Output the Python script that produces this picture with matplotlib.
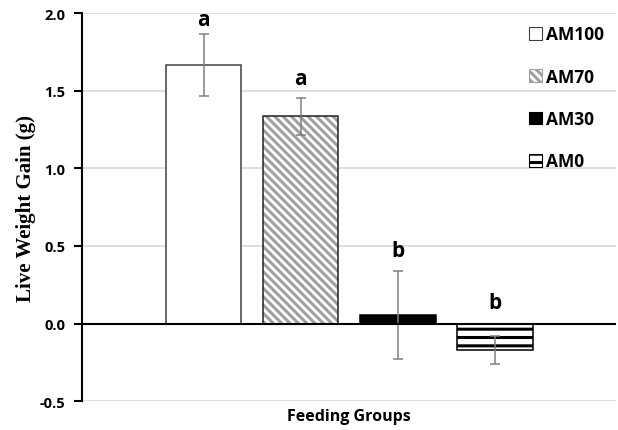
import matplotlib
matplotlib.use("Agg")
import matplotlib.pyplot as plt
from matplotlib.patches import Patch

groups = ["AM100", "AM70", "AM30", "AM0"]
gain = [1.665, 1.335, 0.055, -0.17]
err = [0.20, 0.12, 0.285, 0.092]
letters = ["a", "a", "b", "b"]
letter_y = [1.96, 1.58, 0.47, 0.135]

fills = ["white", "white", "black", "white"]
hatches = [None, "\\\\\\\\", None, "--"]
hatch_cols = ["#404040", "#a0a0a0", "black", "black"]
edges = ["#404040", "#202020", "black", "black"]

SANS = "Open Sans"

plt.rcParams["hatch.linewidth"] = 2.2

fig = plt.figure(figsize=(6.18, 4.31), dpi=100)
ax = fig.add_axes([0.133, 0.067, 0.864, 0.900])

x = [0, 1, 2, 3]
w = 0.78
for i in x:
    # hatch drawn with its own colour, outline drawn on top
    ax.bar(i, gain[i], w, color=fills[i], edgecolor=hatch_cols[i],
           hatch=hatches[i], linewidth=0, zorder=2)
    ax.bar(i, gain[i], w, fill=False, edgecolor=edges[i], linewidth=1.1, zorder=3)
    ax.errorbar(i, gain[i], yerr=err[i], color="#808080", capsize=3.3,
                elinewidth=1.1, capthick=1.1, zorder=4)
    ax.text(i, letter_y[i], letters[i], ha="center", va="center",
            fontsize=15, fontweight="bold", family=SANS)

ax.set_xlim(-1.25, 4.25)
ax.set_ylim(-0.5, 2.0)
ax.set_yticks([-0.5, 0.0, 0.5, 1.0, 1.5, 2.0])
ax.set_yticklabels(["-0.5", "0.0", "0.5", "1.0", "1.5", "2.0"],
                   fontsize=10.5, fontweight="bold", family=SANS)
ax.set_xticks([])
ax.yaxis.grid(True, color="#d9d9d9", linewidth=1.2, zorder=0)
ax.set_axisbelow(True)
ax.axhline(0, color="black", linewidth=1.5, zorder=5)

for s in ["top", "right", "bottom"]:
    ax.spines[s].set_visible(False)
ax.spines["left"].set_linewidth(1.5)
ax.tick_params(axis="y", length=6, width=1.5, pad=6)

ax.set_ylabel("Live Weight Gain (g)", fontsize=15, fontweight="bold",
              family="Liberation Serif", labelpad=3)
ax.set_xlabel("Feeding Groups", fontsize=11.5, fontweight="bold", family=SANS,
              labelpad=5)

handles = []
for i in x:
    handles.append(Patch(facecolor=fills[i], edgecolor=hatch_cols[i] if hatches[i] else edges[i],
                         hatch=hatches[i], linewidth=0.8))
leg = ax.legend(handles, groups, loc="upper right", frameon=False,
                handlelength=0.75, handleheight=0.75, handletextpad=0.25,
                labelspacing=1.4, borderaxespad=0.3,
                prop={"family": SANS, "weight": "bold", "size": 12.5})

fig.savefig("out.png", dpi=100)
